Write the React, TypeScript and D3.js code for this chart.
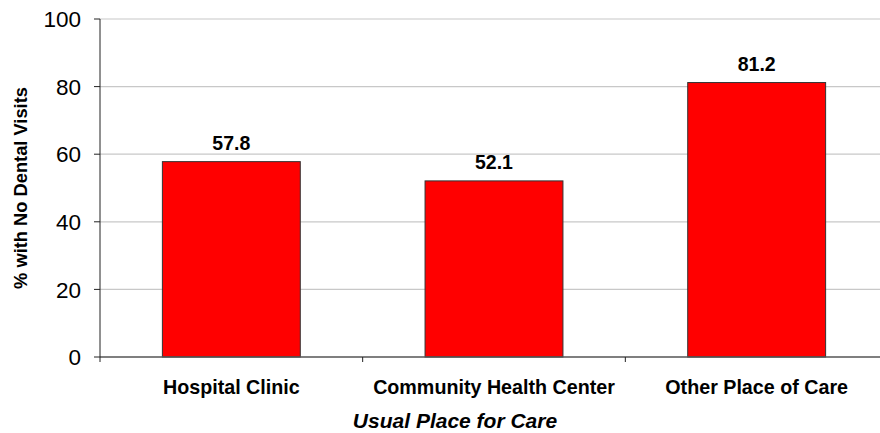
import React from "react";
import * as d3 from "d3";

const categories = ["Hospital Clinic", "Community Health Center", "Other Place of Care"];
const values = [57.8, 52.1, 81.2];
const yTicks = [0, 20, 40, 60, 80, 100];

const W = 880;
const H = 433;
const M = { left: 100, top: 19, right: 888, bottom: 357 };

export default function App() {
  const x = d3
    .scaleBand<string>()
    .domain(categories)
    .range([M.left, M.right])
    .paddingInner(0.475)
    .paddingOuter(0.2375);
  const y = d3.scaleLinear().domain([0, 100]).range([M.bottom, M.top]);
  const font = "Arial, 'Liberation Sans', Helvetica, sans-serif";
  const boundaries = d3
    .range(categories.length + 1)
    .map((i) => M.left + i * ((M.right - M.left) / categories.length));

  return (
    <svg
      width={W}
      height={H}
      style={{ position: "absolute", left: 0, top: 0, background: "#fff" }}
      fontFamily={font}
    >
      {yTicks.map((t) => (
        <g key={t}>
          {t > 0 && (
            <line x1={M.left} x2={W} y1={y(t)} y2={y(t)} stroke="#c8c8c8" strokeWidth={1.2} />
          )}
          <line x1={M.left - 6} x2={M.left} y1={y(t)} y2={y(t)} stroke="#222" strokeWidth={1} />
          <text x={81} y={y(t)} dy="0.36em" textAnchor="end" fontSize={22.5} fill="#000">
            {t}
          </text>
        </g>
      ))}
      {categories.map((c, i) => (
        <g key={c}>
          <rect
            x={x(c)}
            y={y(values[i])}
            width={x.bandwidth()}
            height={y(0) - y(values[i])}
            fill="#ff0000"
            stroke="#333"
            strokeWidth={1}
          />
          <text
            x={(x(c) as number) + x.bandwidth() / 2}
            y={y(values[i]) - 11.5}
            textAnchor="middle"
            fontSize={19.5}
            fontWeight="bold"
            fill="#000"
          >
            {values[i].toFixed(1)}
          </text>
          <text
            x={(x(c) as number) + x.bandwidth() / 2}
            y={394}
            textAnchor="middle"
            fontSize={19.7}
            fontWeight="bold"
            fill="#000"
          >
            {c}
          </text>
        </g>
      ))}
      <line x1={M.left} x2={W} y1={M.bottom} y2={M.bottom} stroke="#555" strokeWidth={1.5} />
      <line x1={M.left} x2={M.left} y1={M.top} y2={M.bottom} stroke="#222" strokeWidth={1} />
      {boundaries.map((b, i) => (
        <line key={i} x1={b} x2={b} y1={M.bottom} y2={M.bottom + 5} stroke="#222" strokeWidth={1} />
      ))}
      <text
        transform={`translate(27,${(M.top + M.bottom) / 2}) rotate(-90)`}
        textAnchor="middle"
        fontSize={18.3}
        fontWeight="bold"
        fill="#000"
      >
        % with No Dental Visits
      </text>
      <text
        x={455}
        y={428}
        textAnchor="middle"
        fontSize={21}
        fontWeight="bold"
        fontStyle="italic"
        fill="#000"
      >
        Usual Place for Care
      </text>
    </svg>
  );
}
